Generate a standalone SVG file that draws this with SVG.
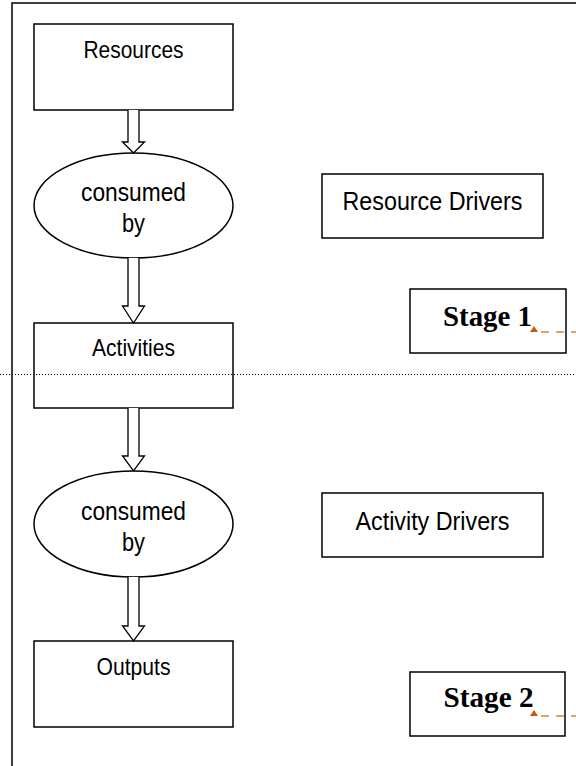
<svg xmlns="http://www.w3.org/2000/svg" width="576" height="766" viewBox="0 0 576 766">
<style>
.box{fill:#fff;stroke:#000;stroke-width:1.5}
.frame{fill:none;stroke:#000;stroke-width:1.5}
.arrow{fill:#fff;stroke:#000;stroke-width:1.3;stroke-linejoin:miter}
.sans{font-family:"Liberation Sans",Arial,sans-serif;fill:#000;text-anchor:middle}
.serif{font-family:"Liberation Serif","Times New Roman",serif;font-weight:bold;fill:#000;text-anchor:middle}
.dash{fill:none;stroke:#d98545;stroke-width:1.3;stroke-dasharray:8 7}
.tri{fill:#c55a11}
.dot{fill:none;stroke:#000;stroke-width:1;stroke-dasharray:1 2}
</style>
<rect class="frame" x="12" y="3" width="600" height="800"/>
<g id="resources">
<rect class="box" x="34" y="24" width="199" height="86"/>
<text class="sans" x="133.5" y="58" font-size="24" textLength="100" lengthAdjust="spacingAndGlyphs">Resources</text>
</g>
<g id="consumed1">
<ellipse class="box" cx="133.5" cy="205.5" rx="99.5" ry="52.5"/>
<text class="sans" x="133.5" y="201" font-size="25" textLength="105" lengthAdjust="spacingAndGlyphs">consumed</text>
<text class="sans" x="133.5" y="232" font-size="25" textLength="23" lengthAdjust="spacingAndGlyphs">by</text>
</g>
<g id="activities">
<rect class="box" x="34" y="323" width="199" height="85"/>
<text class="sans" x="133.5" y="356" font-size="24" textLength="83" lengthAdjust="spacingAndGlyphs">Activities</text>
</g>
<g id="consumed2">
<ellipse class="box" cx="133.5" cy="524" rx="99.5" ry="53"/>
<text class="sans" x="133.5" y="520" font-size="25" textLength="105" lengthAdjust="spacingAndGlyphs">consumed</text>
<text class="sans" x="133.5" y="551" font-size="25" textLength="23" lengthAdjust="spacingAndGlyphs">by</text>
</g>
<g id="outputs">
<rect class="box" x="34" y="641" width="199" height="86"/>
<text class="sans" x="133.5" y="675" font-size="24" textLength="74" lengthAdjust="spacingAndGlyphs">Outputs</text>
</g>
<g id="resource-drivers">
<rect class="box" x="322" y="174" width="221" height="64"/>
<text class="sans" x="432.5" y="210" font-size="25" textLength="180" lengthAdjust="spacingAndGlyphs">Resource Drivers</text>
</g>
<g id="activity-drivers">
<rect class="box" x="322" y="493" width="221" height="64"/>
<text class="sans" x="432.5" y="530" font-size="25" textLength="154" lengthAdjust="spacingAndGlyphs">Activity Drivers</text>
</g>
<g id="stage1">
<rect class="box" x="410" y="289" width="156" height="64"/>
<text class="serif" x="487.5" y="326" font-size="29" textLength="89" lengthAdjust="spacingAndGlyphs">Stage 1</text>
</g>
<g id="stage2">
<rect class="box" x="410" y="672" width="155" height="64"/>
<text class="serif" x="488.5" y="707" font-size="29" textLength="90" lengthAdjust="spacingAndGlyphs">Stage 2</text>
</g>
<line class="dot" x1="0" y1="374.5" x2="576" y2="374.5"/>
<g id="connectors">
<path class="arrow" d="M128,110 V142 H122.5 L133.5,153 L144.5,142 H139 V110"/>
<path class="arrow" d="M128,258 V306 H122.5 L133.5,323 L144.5,306 H139 V258"/>
<path class="arrow" d="M128,408 V456 H122.5 L133.5,471 L144.5,456 H139 V408"/>
<path class="arrow" d="M128,577 V626 H122.5 L133.5,641 L144.5,626 H139 V577"/>
<line class="dash" x1="541" y1="332" x2="576" y2="332"/>
<polygon class="tri" points="530,332 538,332 534,326"/>
<line class="dash" x1="541" y1="716" x2="576" y2="716"/>
<polygon class="tri" points="530,716 538,716 534,710"/>
</g>
</svg>
